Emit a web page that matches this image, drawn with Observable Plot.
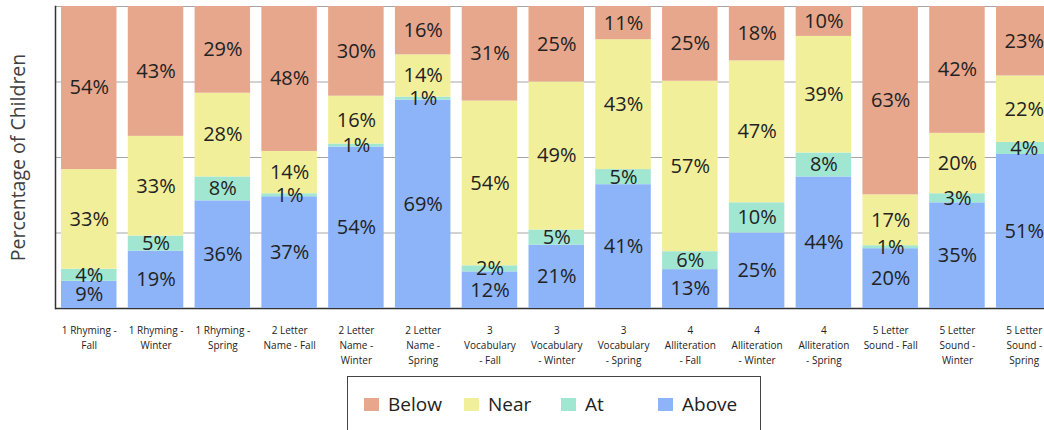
<!DOCTYPE html>
<html>
<head>
<meta charset="utf-8">
<script src="https://cdn.jsdelivr.net/npm/d3@7"></script>
<script src="https://cdn.jsdelivr.net/npm/@observablehq/plot@0.6"></script>
<style>
  body { margin: 0; background: #fff; font-family: "Open Sans", sans-serif; }
  #wrap { position: relative; width: 1044px; height: 430px; overflow: hidden; }
  #legend { position: absolute; left: 347px; top: 376px; width: 414px; height: 60px; border: 1px solid #444; box-sizing: border-box; }
  .item { position: absolute; top: 14px; display: flex; align-items: center; font-size: 19px; color: #222; }
  .sw { width: 15px; height: 13px; margin-right: 9px; }
</style>
</head>
<body>
<div id="wrap"><div id="chart"></div><div id="legend"></div></div>
<script>
const categories = [
  "1 Rhyming - Fall", "1 Rhyming - Winter", "1 Rhyming - Spring",
  "2 Letter Name - Fall", "2 Letter Name - Winter", "2 Letter Name - Spring",
  "3 Vocabulary - Fall", "3 Vocabulary - Winter", "3 Vocabulary - Spring",
  "4 Alliteration - Fall", "4 Alliteration - Winter", "4 Alliteration - Spring",
  "5 Letter Sound - Fall", "5 Letter Sound - Winter", "5 Letter Sound - Spring"
];
const tickLabels = [
  "1 Rhyming -\nFall", "1 Rhyming -\nWinter", "1 Rhyming -\nSpring",
  "2 Letter\nName - Fall", "2 Letter\nName -\nWinter", "2 Letter\nName -\nSpring",
  "3\nVocabulary\n- Fall", "3\nVocabulary\n- Winter", "3\nVocabulary\n- Spring",
  "4\nAlliteration\n- Fall", "4\nAlliteration\n- Winter", "4\nAlliteration\n- Spring",
  "5 Letter\nSound - Fall", "5 Letter\nSound -\nWinter", "5 Letter\nSound -\nSpring"
];
const seriesNames = ["Above", "At", "Near", "Below"];
const above = [9, 19, 36, 37, 54, 69, 12, 21, 41, 13, 25, 44, 20, 35, 51];
const at    = [4, 5, 8, 1, 1, 1, 2, 5, 5, 6, 10, 8, 1, 3, 4];
const near  = [33, 33, 28, 14, 16, 14, 54, 49, 43, 57, 47, 39, 17, 20, 22];
const below = [54, 43, 29, 48, 30, 16, 31, 25, 11, 25, 18, 10, 63, 42, 23];
const colors = {Below: "#E6A78D", Near: "#F2EF9B", At: "#A1E6D1", Above: "#8DB4F9"};
const legendOrder = ["Below", "Near", "At", "Above"];
const legendLeft = [16, 116, 213, 310];

const seriesValues = {Above: above, At: at, Near: near, Below: below};
const data = [];
categories.forEach((c, i) => {
  seriesNames.forEach(s => data.push({category: c, series: s, value: seriesValues[s][i]}));
});

const chart = Plot.plot({
  width: 1044,
  height: 372,
  marginLeft: 55,
  marginRight: -13.5,
  marginTop: 6,
  marginBottom: 64,
  style: {fontFamily: "Open Sans, sans-serif", background: "transparent", overflow: "visible"},
  x: {domain: categories, paddingInner: 0.169, paddingOuter: 0.09, round: false, label: null},
  y: {domain: [0, 1], axis: null},
  color: {domain: Object.keys(colors), range: Object.values(colors)},
  marks: [
    Plot.ruleY([0.25, 0.5, 0.75, 1], {stroke: "#a6a6a6", strokeWidth: 1}),
    Plot.ruleY([0], {stroke: "#333", strokeWidth: 1.5}),
    Plot.barY(data, Plot.stackY({x: "category", y: "value", z: "series", fill: d => d.series, offset: "normalize"})),
    Plot.text(data, Plot.stackY({x: "category", y: "value", z: "series", offset: "normalize",
      text: d => d.value + "%", fontSize: 20, fill: "#222"})),
    Plot.frame({anchor: "left", stroke: "#333", strokeWidth: 1.5}),
    Plot.axisX({tickSize: 0, tickPadding: 15, fontSize: 10, lineHeight: 1.5, fill: "#222",
      tickFormat: d => tickLabels[categories.indexOf(d)], label: null}),
    Plot.text(["Percentage of Children"], {frameAnchor: "left", textAnchor: "middle", rotate: -90, dx: -37, fontSize: 19.5, fill: "#404040"})
  ]
});
document.getElementById("chart").append(chart);

const legend = document.getElementById("legend");
legendOrder.forEach((name, i) => {
  const item = document.createElement("div");
  item.className = "item";
  item.style.left = legendLeft[i] + "px";
  const sw = document.createElement("span");
  sw.className = "sw";
  sw.style.background = colors[name];
  const label = document.createElement("span");
  label.textContent = name;
  item.append(sw, label);
  legend.append(item);
});
</script>
</body>
</html>
